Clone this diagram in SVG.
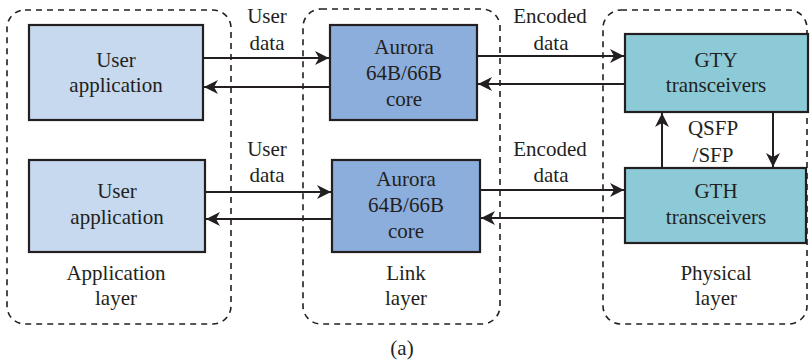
<svg xmlns="http://www.w3.org/2000/svg" width="812" height="364" viewBox="0 0 812 364" font-family="Liberation Serif, Times New Roman, serif">
<style>
text{font-family:'Liberation Serif','Times New Roman',serif;font-size:21px;fill:#231f20;text-anchor:middle}
.layer{fill:none;stroke:#231f20;stroke-width:1.6;stroke-dasharray:6,5}
.box{stroke:#231f20;stroke-width:2.2}
.ua{fill:#c6d9ef}
.au{fill:#8caedc}
.gt{fill:#8ccad8}
.con{stroke:#231f20;stroke-width:2;fill:none;marker-end:url(#ah)}
</style>
<defs>
<marker id="ah" markerUnits="userSpaceOnUse" markerWidth="16" markerHeight="14" refX="14" refY="7" orient="auto">
<path d="M0,0 L14,7 L0,14 L4,7 Z" fill="#231f20"/>
</marker>
</defs>
<g id="application-layer">
<rect class="layer" x="7" y="10" width="224" height="314" rx="18"/>
<text x="116" y="280">Application</text>
<text x="116" y="305">layer</text>
</g>
<g id="link-layer">
<rect class="layer" x="303" y="9" width="197" height="315" rx="18"/>
<text x="406" y="280">Link</text>
<text x="406" y="305">layer</text>
</g>
<g id="physical-layer">
<rect class="layer" x="603" y="10" width="204" height="314" rx="18"/>
<text x="716" y="280">Physical</text>
<text x="716" y="305">layer</text>
</g>
<g id="user-app-1">
<rect class="box ua" x="29" y="25" width="174" height="95"/>
<text x="116" y="67">User</text>
<text x="116" y="92">application</text>
</g>
<g id="user-app-2">
<rect class="box ua" x="29" y="160" width="176" height="92"/>
<text x="117" y="198">User</text>
<text x="117" y="224">application</text>
</g>
<g id="aurora-1">
<rect class="box au" x="330" y="25" width="147" height="95"/>
<text x="404" y="54">Aurora</text>
<text x="404" y="80">64B/66B</text>
<text x="404" y="106">core</text>
</g>
<g id="aurora-2">
<rect class="box au" x="332" y="160" width="148" height="92"/>
<text x="406" y="186">Aurora</text>
<text x="406" y="212">64B/66B</text>
<text x="406" y="238">core</text>
</g>
<g id="gty">
<rect class="box gt" x="625" y="34" width="183" height="78"/>
<text x="716" y="67">GTY</text>
<text x="716" y="92">transceivers</text>
</g>
<g id="gth">
<rect class="box gt" x="625" y="168" width="181" height="75"/>
<text x="716" y="198">GTH</text>
<text x="716" y="224">transceivers</text>
</g>
<g id="connectors">
<line class="con" x1="203" y1="58" x2="329" y2="58"/>
<line class="con" x1="330" y1="87" x2="204" y2="87"/>
<line class="con" x1="205" y1="192" x2="331" y2="192"/>
<line class="con" x1="332" y1="219" x2="206" y2="219"/>
<line class="con" x1="477" y1="56" x2="624" y2="56"/>
<line class="con" x1="625" y1="84" x2="478" y2="84"/>
<line class="con" x1="480" y1="190" x2="624" y2="190"/>
<line class="con" x1="625" y1="218" x2="481" y2="218"/>
<line class="con" x1="773" y1="112" x2="773" y2="167"/>
<line class="con" x1="662" y1="168" x2="662" y2="113"/>
<text x="267" y="23">User</text>
<text x="267" y="50">data</text>
<text x="267" y="156">User</text>
<text x="267" y="182">data</text>
<text x="550" y="23">Encoded</text>
<text x="551" y="50">data</text>
<text x="550" y="156">Encoded</text>
<text x="551" y="182">data</text>
<text x="713" y="135">QSFP</text>
<text x="713" y="162">/SFP</text>
</g>
<text x="402" y="355">(a)</text>
</svg>
